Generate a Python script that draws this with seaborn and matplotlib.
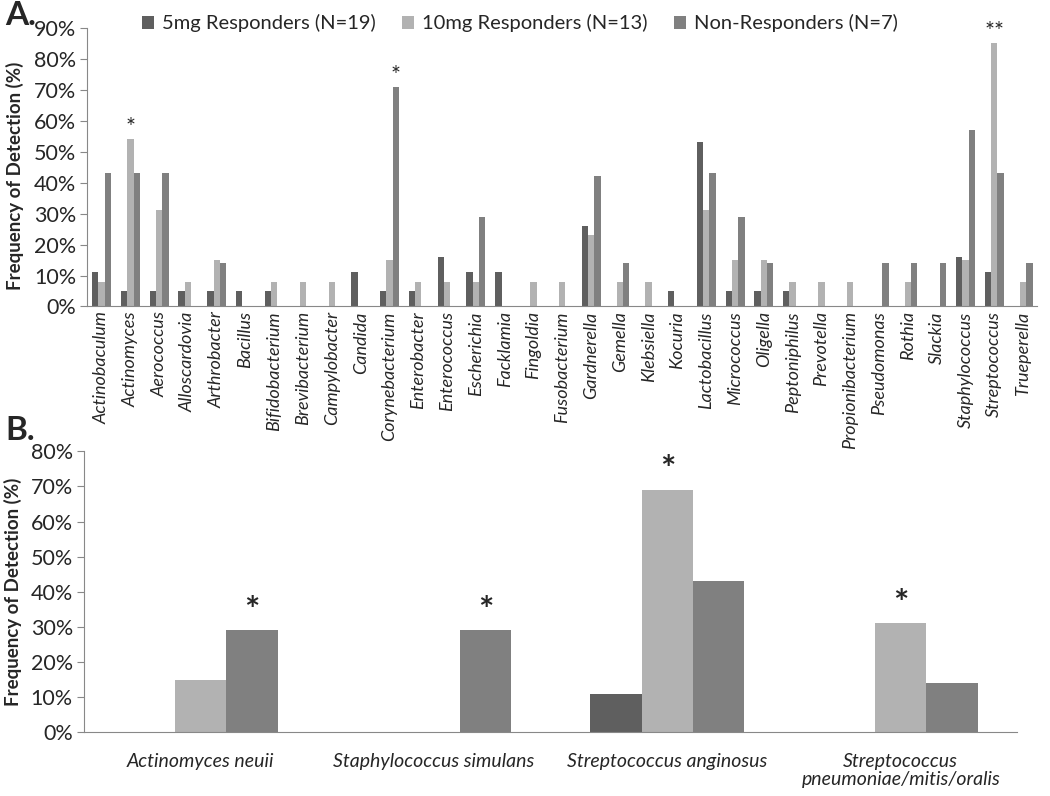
import numpy as np
import pandas as pd
import seaborn as sns
import matplotlib.pyplot as plt
from matplotlib.ticker import PercentFormatter, FixedLocator

# --- Dados do painel A (gêneros) ---
genera = ['Actinobaculum', 'Actinomyces', 'Aerococcus', 'Alloscardovia', 'Arthrobacter',
          'Bacillus', 'Bifidobacterium', 'Brevibacterium', 'Campylobacter', 'Candida',
          'Corynebacterium', 'Enterobacter', 'Enterococcus', 'Escherichia', 'Facklamia',
          'Fingoldia', 'Fusobacterium', 'Gardnerella', 'Gemella', 'Klebsiella', 'Kocuria',
          'Lactobacillus', 'Micrococcus', 'Oligella', 'Peptoniphilus', 'Prevotella',
          'Propionibacterium', 'Pseudomonas', 'Rothia', 'Slackia', 'Staphylococcus',
          'Streptococcus', 'Trueperella']
a_5mg = [11, 5, 5, 5, 5, 5, 5, 0, 0, 11, 5, 5, 16, 11, 11, 0, 0, 26, 0, 0, 5,
         53, 5, 5, 5, 0, 0, 0, 0, 0, 16, 11, 0]
a_10mg = [8, 54, 31, 8, 15, 0, 8, 8, 8, 0, 15, 8, 8, 8, 0, 8, 8, 23, 8, 8, 0,
          31, 15, 15, 8, 8, 8, 0, 8, 0, 15, 85, 8]
a_non = [43, 43, 43, 0, 14, 0, 0, 0, 0, 0, 71, 0, 0, 29, 0, 0, 0, 42, 14, 0, 0,
         43, 29, 14, 0, 0, 0, 14, 14, 14, 57, 43, 14]

# --- Dados do painel B (espécies) ---
species = ['Actinomyces neuii', 'Staphylococcus simulans', 'Streptococcus anginosus',
           'Streptococcus\npneumoniae/mitis/oralis']
b_5mg = [0, 0, 11, 0]
b_10mg = [15, 0, 69, 31]
b_non = [29, 29, 43, 14]

groups = ['5mg Responders (N=19)', '10mg Responders (N=13)', 'Non-Responders (N=7)']
colors = ['#5f5f5f', '#b2b2b2', '#808080']

# asteriscos: (categoria, grupo, texto)
stars_a = [('Actinomyces', 1, '*'), ('Corynebacterium', 2, '*'), ('Streptococcus', 1, '**')]
stars_b = [(0, 2), (1, 2), (2, 1), (3, 1)]


def long_df(cats, series):
    rows = []
    for g, vals in zip(groups, series):
        for c, v in zip(cats, vals):
            rows.append({'cat': c, 'grupo': g, 'valor': v})
    return pd.DataFrame(rows)


df_a = long_df(genera, [a_5mg, a_10mg, a_non])
df_b = long_df(species, [b_5mg, b_10mg, b_non])

sns.set_style('white')
plt.rcParams['font.family'] = ['Lato', 'DejaVu Sans']

fig = plt.figure(figsize=(10.5, 7.96), dpi=100)
axA = fig.add_axes([0.083, 0.615, 0.905, 0.35])
axB = fig.add_axes([0.080, 0.080, 0.889, 0.353])


def style_axis(ax, n, ymax, step):
    ax.set_xlim(-0.5, n - 0.5)
    ax.set_ylim(0, ymax)
    ax.set_yticks(np.arange(0, ymax + 0.1, step))
    ax.yaxis.set_major_formatter(PercentFormatter(decimals=0))
    ax.xaxis.set_minor_locator(FixedLocator(np.arange(-0.5, n, 1)))
    ax.tick_params(axis='x', which='major', length=0)
    ax.tick_params(axis='x', which='minor', length=7, color='#888888', width=1)
    ax.tick_params(axis='y', which='major', length=5, color='#888888', labelsize=15.5, pad=3, left=True)
    for s in ['top', 'right']:
        ax.spines[s].set_visible(False)
    for s in ['left', 'bottom']:
        ax.spines[s].set_color('#888888')
    ax.set_xlabel('')
    ax.set_ylabel('Frequency of Detection (%)', fontsize=13.5, fontweight='bold')


# --- Painel A ---
sns.barplot(data=df_a, x='cat', y='valor', hue='grupo', palette=colors,
            width=0.66, gap=0, ax=axA, saturation=1, linewidth=0)
style_axis(axA, len(genera), 90, 10)
axA.set_xticks(range(len(genera)))
axA.set_xticklabels(genera, rotation=90, fontstyle='italic', fontsize=13)
axA.yaxis.set_label_coords(-0.066, 0.47)

handles, labels = axA.get_legend_handles_labels()
axA.get_legend().remove()
fig.legend(handles, labels, loc='upper center', bbox_to_anchor=(0.495, 1.005), ncol=3,
           frameon=False, fontsize=14.5, handlelength=0.6, handleheight=0.6,
           columnspacing=1.3, handletextpad=0.4)

for cat, gi, txt in stars_a:
    bar = axA.containers[gi][genera.index(cat)]
    axA.text(bar.get_x() + bar.get_width() / 2, bar.get_height() + 0.3, txt,
             ha='center', va='bottom', fontsize=17)

# --- Painel B ---
sns.barplot(data=df_b, x='cat', y='valor', hue='grupo', palette=colors,
            width=0.66, gap=0, ax=axB, saturation=1, linewidth=0, legend=False)
style_axis(axB, len(species), 80, 10)
axB.set_xticks(range(len(species)))
axB.set_xticklabels(species, fontstyle='italic', fontsize=14, linespacing=1.05)
axB.tick_params(axis='x', which='major', pad=15)
axB.yaxis.set_label_coords(-0.066, 0.5)

for ci, gi in stars_b:
    bar = axB.containers[gi][ci]
    axB.text(bar.get_x() + bar.get_width() / 2, bar.get_height() + 0.8, '*',
             ha='center', va='bottom', fontsize=26, fontweight='bold')

fig.text(0.005, 0.999, 'A.', fontsize=24, fontweight='bold', va='top')
fig.text(0.005, 0.478, 'B.', fontsize=24, fontweight='bold', va='top')

fig.savefig('out.png', dpi=100)
